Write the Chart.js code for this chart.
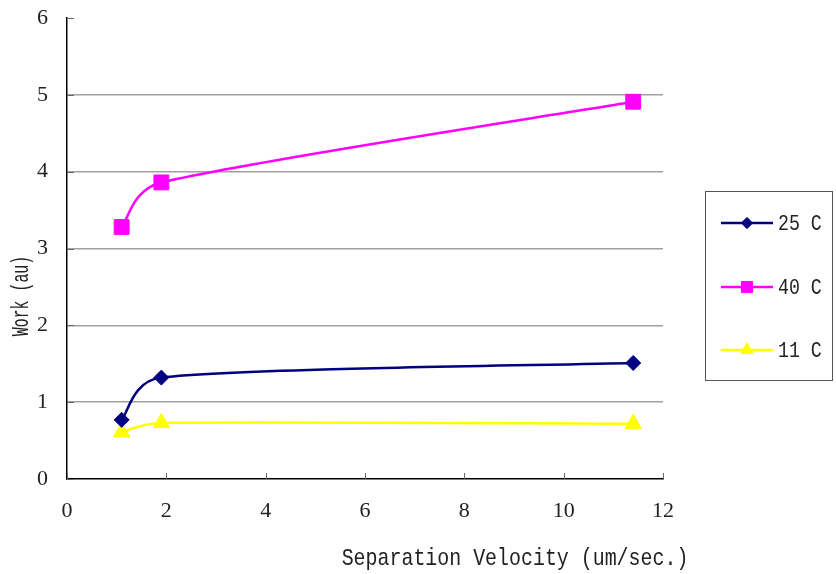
<!DOCTYPE html>
<html>
<head>
<meta charset="utf-8">
<script src="https://cdn.jsdelivr.net/npm/chart.js@4.4.0/dist/chart.umd.min.js"></script>
<style>
  html, body { margin: 0; padding: 0; background: #fff; }
</style>
</head>
<body>
<canvas id="chart" width="836" height="574"></canvas>
<script>
const velocity = [1.1, 1.9, 11.4];
const work25 = [0.77, 1.32, 1.51];
const work40 = [3.28, 3.86, 4.91];
const work11 = [0.61, 0.73, 0.72];
const seriesNames = ["25 C", "40 C", "11 C"];
const xTitle = "Separation Velocity (um/sec.)";
const yTitle = "Work (au)";

const toPoints = (ys) => velocity.map((x, i) => ({ x: x, y: ys[i] }));

// Excel-like smoothing: reset the bezier control points chart.js computed
const smoothing = {
  id: "smoothing",
  beforeDatasetDraw(chart, args) {
    const meta = args.meta;
    meta.dataset.updateControlPoints(chart.chartArea, "x");
    const pts = meta.data;
    pts.forEach((p, i) => {
      const prev = pts[i - 1] || p;
      const next = pts[i + 1] || p;
      const dx = next.x - prev.x;
      const dy = next.y - prev.y;
      const len = Math.hypot(dx, dy) || 1;
      const dPrev = Math.hypot(p.x - prev.x, p.y - prev.y);
      const dNext = Math.hypot(next.x - p.x, next.y - p.y);
      const armIn = i === 0 ? 0 : Math.min(len / 6, dPrev * 0.5);
      const armOut = i === pts.length - 1 ? 0 : Math.min(len / 6, dNext * 0.5);
      p.cp1x = p.x - dx / len * armIn;
      p.cp1y = p.y - dy / len * armIn;
      p.cp2x = p.x + dx / len * armOut;
      p.cp2y = p.y + dy / len * armOut;
    });
  }
};

// axis titles, inward tick marks and the boxed legend
const extras = {
  id: "extras",
  afterDraw(chart) {
    const ctx = chart.ctx;
    const area = chart.chartArea;
    const xs = chart.scales.x;
    const ys = chart.scales.y;
    ctx.save();

    ctx.strokeStyle = "#666";
    ctx.lineWidth = 1;
    xs.ticks.forEach((t) => {
      const px = Math.round(xs.getPixelForValue(t.value)) + 0.5;
      ctx.beginPath();
      ctx.moveTo(px, area.bottom);
      ctx.lineTo(px, area.bottom - 6);
      ctx.stroke();
    });
    ys.ticks.forEach((t) => {
      const py = Math.round(ys.getPixelForValue(t.value)) + 0.5;
      ctx.beginPath();
      ctx.moveTo(area.left, py);
      ctx.lineTo(area.left + 7, py);
      ctx.stroke();
    });

    ctx.fillStyle = "#222";
    ctx.textBaseline = "middle";
    ctx.textAlign = "center";

    ctx.save();
    ctx.translate(515, 559);
    ctx.scale(0.83, 1);
    ctx.font = "24px 'Liberation Mono'";
    ctx.fillText(xTitle, 0, 0);
    ctx.restore();

    ctx.save();
    ctx.translate(22, 296);
    ctx.rotate(-Math.PI / 2);
    ctx.scale(0.62, 1);
    ctx.font = "24px 'Liberation Mono'";
    ctx.fillText(yTitle, 0, 0);
    ctx.restore();

    // legend box
    ctx.strokeStyle = "#555";
    ctx.lineWidth = 1;
    ctx.strokeRect(705.5, 191.5, 127, 189);
    const rows = [223, 287, 350];
    chart.data.datasets.forEach((ds, i) => {
      const y = rows[i];
      ctx.strokeStyle = ds.borderColor;
      ctx.lineWidth = 2.5;
      ctx.beginPath();
      ctx.moveTo(721, y);
      ctx.lineTo(773, y);
      ctx.stroke();
      ctx.fillStyle = ds.backgroundColor;
      ctx.strokeStyle = ds.borderColor;
      ctx.lineWidth = 1;
      Chart.helpers.drawPoint(ctx, {
        pointStyle: ds.pointStyle,
        radius: ds.pointRadius * 0.75,
        rotation: 0,
        borderWidth: 1
      }, 747, y);
      ctx.save();
      ctx.fillStyle = "#222";
      ctx.textAlign = "left";
      ctx.translate(778, y);
      ctx.scale(0.83, 1);
      ctx.font = "22px 'Liberation Mono'";
      ctx.fillText(ds.label, 0, 1);
      ctx.restore();
    });

    ctx.restore();
  }
};

const tickFont = { family: "'Liberation Serif', serif", size: 22 };

new Chart(document.getElementById("chart"), {
  type: "line",
  data: {
    datasets: [
      {
        label: seriesNames[0],
        data: toPoints(work25),
        borderColor: "#000080",
        backgroundColor: "#000080",
        pointStyle: "rectRot",
        pointRadius: 7.5
      },
      {
        label: seriesNames[1],
        data: toPoints(work40),
        borderColor: "#ff00ff",
        backgroundColor: "#ff00ff",
        pointStyle: "rect",
        pointRadius: 10.5
      },
      {
        label: seriesNames[2],
        data: toPoints(work11),
        borderColor: "#ffff00",
        backgroundColor: "#ffff00",
        pointStyle: "triangle",
        pointRadius: 9.5
      }
    ]
  },
  options: {
    responsive: false,
    animation: false,
    layout: { padding: { top: 0, right: 173, left: 0, bottom: 0 } },
    elements: {
      line: { borderWidth: 2.5, tension: 0.5 },
      point: { borderWidth: 1, hoverRadius: 8 }
    },
    scales: {
      x: {
        type: "linear",
        min: 0,
        max: 12,
        afterFit: (scale) => { scale.height = 95; },
        ticks: { stepSize: 2, padding: 19, color: "#222", font: tickFont },
        grid: { display: false, drawTicks: false },
        border: { display: true, color: "#000", width: 1.5 }
      },
      y: {
        min: 0,
        max: 6,
        afterFit: (scale) => {
          scale.width = 67;
          scale.paddingTop = 18;
          scale.paddingBottom = 0;
        },
        ticks: { stepSize: 1, padding: 19, color: "#222", font: tickFont },
        grid: {
          drawTicks: false,
          lineWidth: 1.5,
          color: (c) => (c.tick && c.tick.value > 0 && c.tick.value < 6 ? "#a0a0a0" : "rgba(0,0,0,0)")
        },
        border: { display: true, color: "#000", width: 1.5 }
      }
    },
    plugins: {
      legend: { display: false },
      tooltip: { enabled: false }
    }
  },
  plugins: [smoothing, extras]
});
</script>
</body>
</html>
